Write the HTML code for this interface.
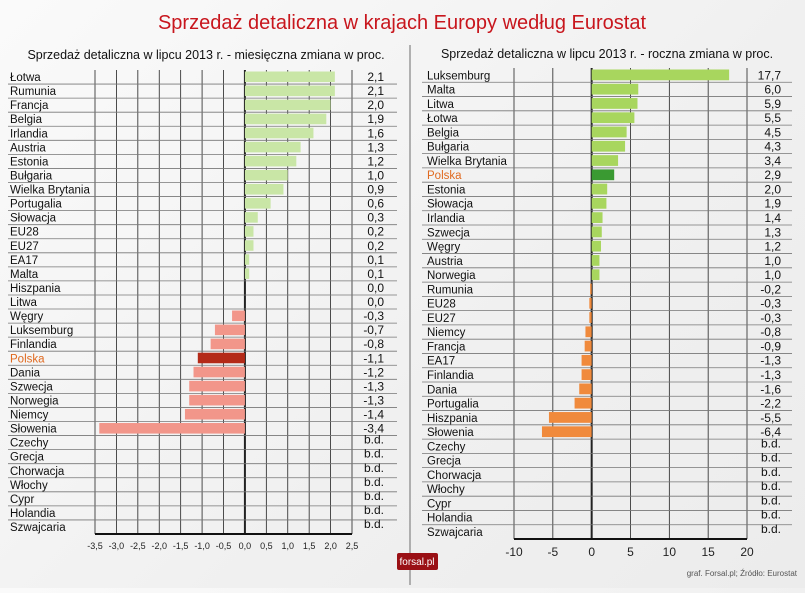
<!DOCTYPE html>
<html><head><meta charset="utf-8"><style>
html,body{margin:0;padding:0;}
body{width:805px;height:588px;overflow:hidden;background:linear-gradient(135deg,#fafafa,#f0f0f0 60%,#ececec);font-family:"Liberation Sans",sans-serif;}
svg text{font-family:"Liberation Sans",sans-serif;}
</style></head><body>
<svg id="c" width="805" height="588">
<text x="402" y="29" text-anchor="middle" font-size="20" fill="#c8161d">Sprzedaż detaliczna w krajach Europy według Eurostat</text>
<text x="206" y="59" text-anchor="middle" font-size="12.5" fill="#111">Sprzedaż detaliczna w lipcu 2013 r. - miesięczna zmiana w proc.</text>
<text x="607" y="58" text-anchor="middle" font-size="12.5" fill="#111">Sprzedaż detaliczna w lipcu 2013 r. - roczna zmiana w proc.</text>
<line x1="410" y1="45" x2="410" y2="585" stroke="#999" stroke-width="1.5"/>
<g id="L"></g><g id="R"></g>
<rect x="397" y="553" width="41" height="17" rx="2" fill="#9a1015"/>
<text x="417" y="565" text-anchor="middle" font-size="10" fill="#fff">forsal.pl</text>
<text x="797" y="576" text-anchor="end" font-size="8" fill="#555">graf. Forsal.pl; Źródło: Eurostat</text>
</svg>
<script>
const leftCats=["Łotwa","Rumunia","Francja","Belgia","Irlandia","Austria","Estonia","Bułgaria","Wielka Brytania","Portugalia","Słowacja","EU28","EU27","EA17","Malta","Hiszpania","Litwa","Węgry","Luksemburg","Finlandia","Polska","Dania","Szwecja","Norwegia","Niemcy","Słowenia","Czechy","Grecja","Chorwacja","Włochy","Cypr","Holandia","Szwajcaria"];
const leftVals=[2.1,2.1,2.0,1.9,1.6,1.3,1.2,1.0,0.9,0.6,0.3,0.2,0.2,0.1,0.1,0.0,0.0,-0.3,-0.7,-0.8,-1.1,-1.2,-1.3,-1.3,-1.4,-3.4,null,null,null,null,null,null,null];
const leftTicks=[-3.5,-3.0,-2.5,-2.0,-1.5,-1.0,-0.5,0.0,0.5,1.0,1.5,2.0,2.5];
const rightCats=["Luksemburg","Malta","Litwa","Łotwa","Belgia","Bułgaria","Wielka Brytania","Polska","Estonia","Słowacja","Irlandia","Szwecja","Węgry","Austria","Norwegia","Rumunia","EU28","EU27","Niemcy","Francja","EA17","Finlandia","Dania","Portugalia","Hiszpania","Słowenia","Czechy","Grecja","Chorwacja","Włochy","Cypr","Holandia","Szwajcaria"];
const rightVals=[17.7,6.0,5.9,5.5,4.5,4.3,3.4,2.9,2.0,1.9,1.4,1.3,1.2,1.0,1.0,-0.2,-0.3,-0.3,-0.8,-0.9,-1.3,-1.3,-1.6,-2.2,-5.5,-6.4,null,null,null,null,null,null,null];
const rightTicks=[-10,-5,0,5,10,15,20];
const NS="http://www.w3.org/2000/svg";
function mk(p,t,a){const e=document.createElementNS(NS,t);for(const k in a)e.setAttribute(k,a[k]);p.appendChild(e);return e;}
function fmt(v,d){return v===null?"b.d.":v.toFixed(d).replace(".",",");}
function draw(g,o){
  const n=o.cats.length,rh=(o.y1-o.y0)/n;
  const x=v=>o.px0+(v-o.min)/(o.max-o.min)*(o.px1-o.px0);
  o.ticks.forEach(t=>{
    const l=mk(g,"line",{x1:x(t),x2:x(t),y1:o.y0,y2:o.y1,stroke:"#222","stroke-width":t===0?2:0.8});
    
    
    const tx=mk(g,"text",{x:x(t),y:o.y1+(o.side==="L"?15:17),"text-anchor":"middle","font-size":o.side==="L"?9:12,fill:"#222"});
    tx.textContent=o.side==="L"?fmt(t,1):String(t);
    
    
  });
  const ax=mk(g,"line",{x1:o.px0,x2:o.px1,y1:o.y1,y2:o.y1,stroke:"#111","stroke-width":2});
  
  
  o.cats.forEach((c,i)=>{
    const yt=o.y0+i*rh,v=o.vals[i];
    if(i<n-1){const ln=mk(g,"line",{x1:o.lx0,x2:o.lx1,y1:yt+rh,y2:yt+rh,stroke:"#777","stroke-width":0.8});
      
      }
    const pol=c==="Polska";
    const lb=mk(g,"text",{x:o.labx,y:yt+rh-3,"font-size":11.5,fill:pol?"#e06a20":"#111"});
    lb.textContent=c;
    
    
    const vt=mk(g,"text",{x:o.valx,y:yt+rh-(v===null?6:3),"text-anchor":"end","font-size":12,fill:"#111"});
    vt.textContent=fmt(v,1);
    
    
    if(v!==null&&v!==0){
      const xa=x(Math.min(0,v)),xb=x(Math.max(0,v));
      const col=pol?o.polCol:(v>0?o.pos:o.neg);
      const r=mk(g,"rect",{x:xa,y:yt+1.5,width:xb-xa,height:rh-3.5,fill:col});
      
      
    }
  });
}
draw(document.getElementById("L"),{side:"L",cats:leftCats,vals:leftVals,ticks:leftTicks,min:-3.5,max:2.5,px0:95,px1:352,y0:70,y1:534,lx0:8,lx1:397,labx:10,valx:384,pos:"#c9e6a6",neg:"#f2968a",polCol:"#b42a18"});
draw(document.getElementById("R"),{side:"R",cats:rightCats,vals:rightVals,ticks:rightTicks,min:-10,max:20,px0:514,px1:747,y0:68,y1:539,lx0:422,lx1:792,labx:427,valx:781,pos:"#a8d65e",neg:"#f08a3c",polCol:"#3a9a32"});
</script>
</body></html>
